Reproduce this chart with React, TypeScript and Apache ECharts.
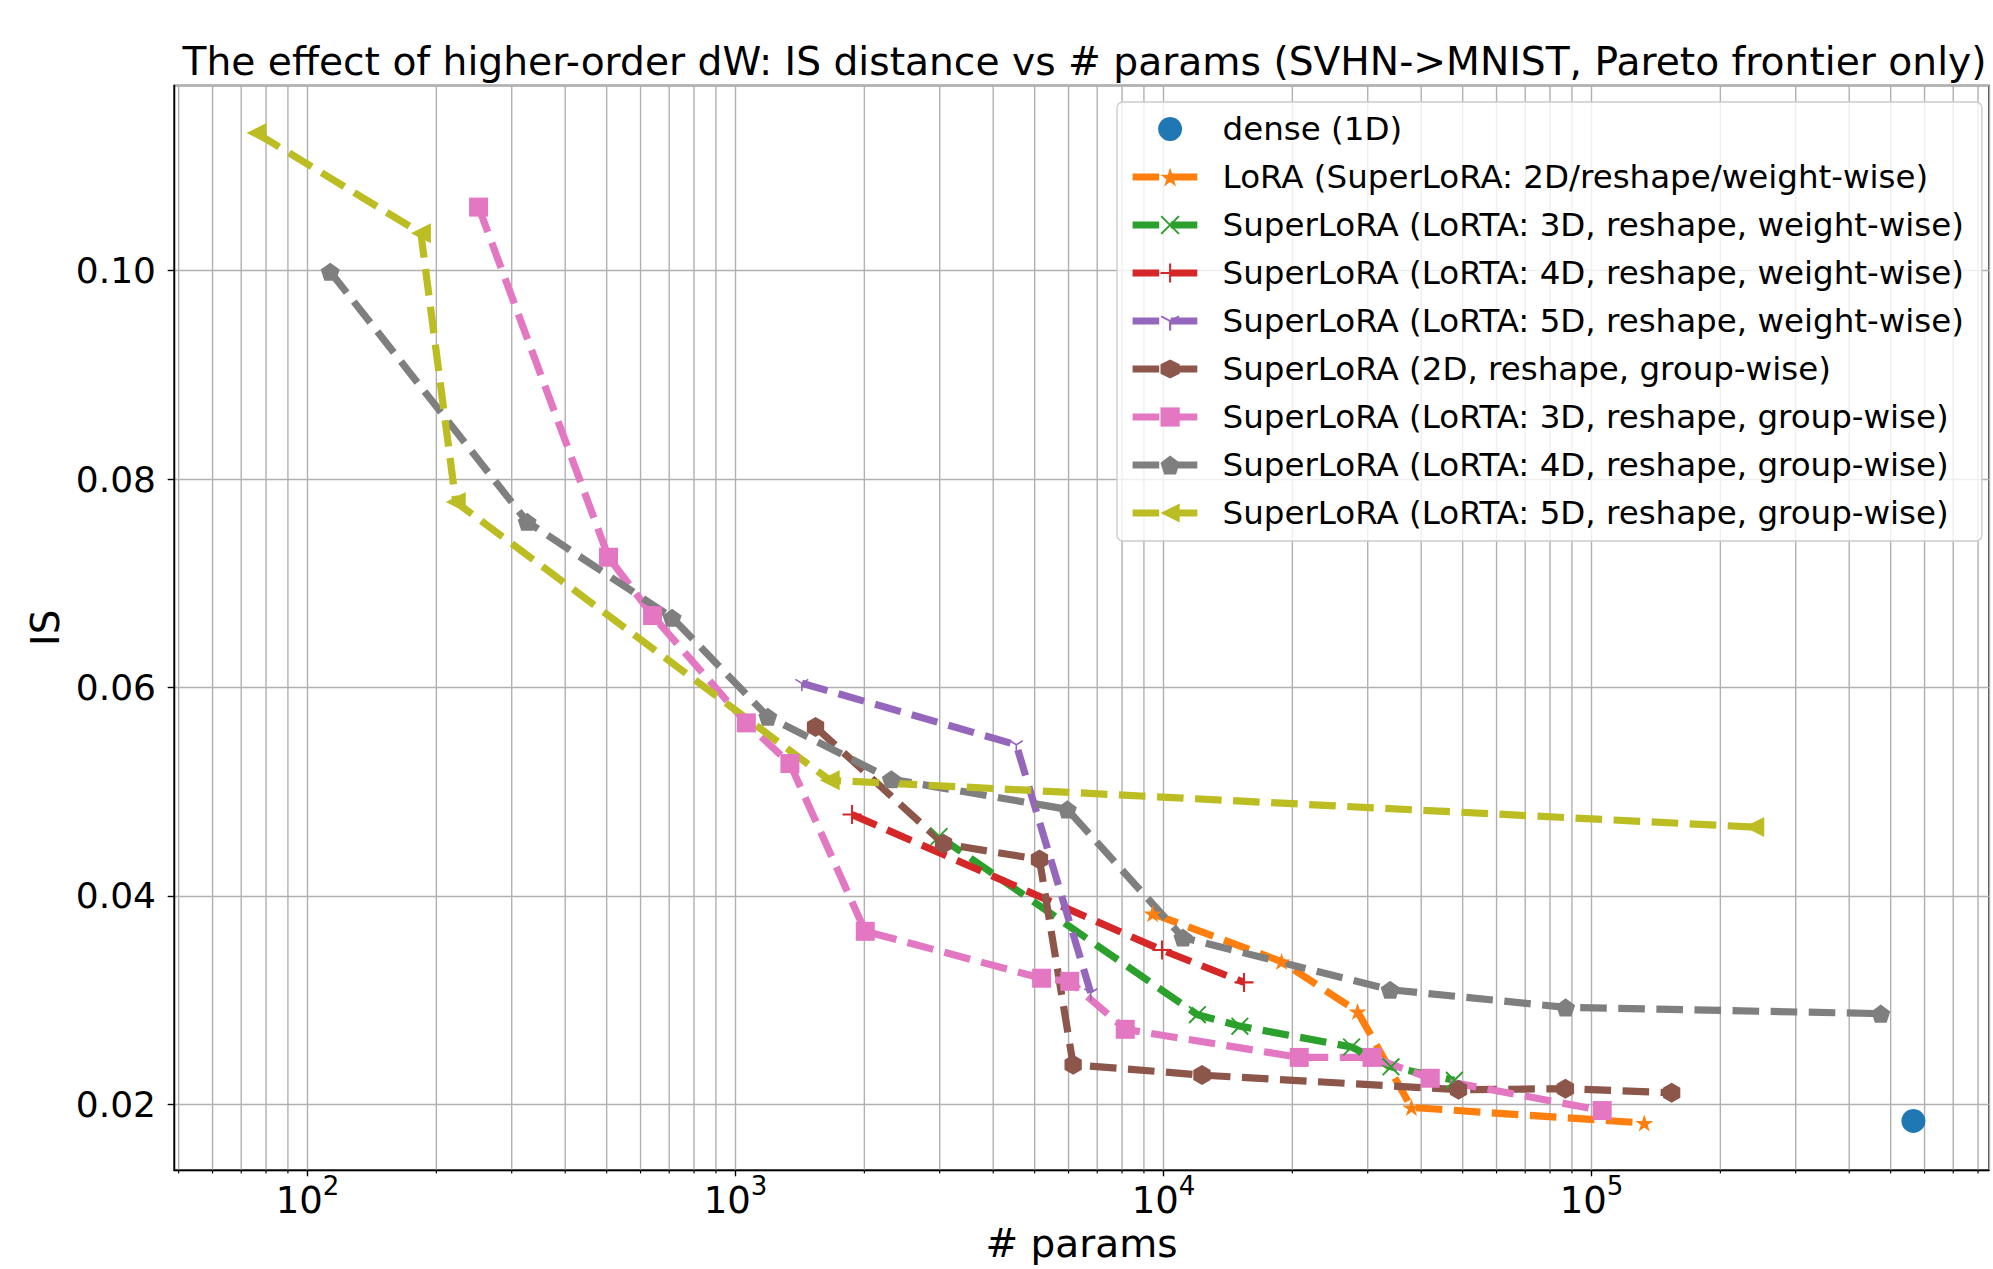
import React, { useEffect, useRef } from "react";
import * as echarts from "echarts";

const FONT = "DejaVu Sans";

// ---- data (x = # params, y = IS) ----
const denseX = [565000];
const denseY = [0.0184];

const loraX = [9430, 18870, 28400, 37950, 132800];
const loraY = [0.0383, 0.0337, 0.0289, 0.0197, 0.0182];

const lorta3wX = [2990, 12000, 15080, 27500, 34000, 47800];
const lorta3wY = [0.0457, 0.0286, 0.0275, 0.0255, 0.0236, 0.0223];

const lorta4wX = [1872, 9920, 15420];
const lorta4wY = [0.0478, 0.0348, 0.0317];

const lorta5wX = [1429, 4530, 6760];
const lorta5wY = [0.0604, 0.0545, 0.0307];

const super2gX = [1538, 3062, 5130, 6150, 12300, 48900, 86900, 153900];
const super2gY = [0.0562, 0.045, 0.0435, 0.0238, 0.0228, 0.0214, 0.0215, 0.0211];

const lorta3gX = [251, 505, 640, 1060, 1340, 2010, 5190, 6040, 8140, 20750, 30700, 42000, 105900];
const lorta3gY = [0.1061, 0.0725, 0.0669, 0.0566, 0.0527, 0.0366, 0.0321, 0.0318, 0.0272, 0.0245, 0.0245, 0.0225, 0.0194];

const lorta4gX = [113, 326, 711, 1190, 2312, 5960, 11100, 33850, 87000, 474000];
const lorta4gY = [0.0999, 0.0759, 0.0667, 0.0572, 0.0512, 0.0483, 0.036, 0.031, 0.0293, 0.0287];

const lorta5gX = [76, 184, 222, 1660, 240000];
const lorta5gY = [0.1132, 0.1036, 0.0778, 0.0511, 0.0466];

const seriesNames = [
  "dense (1D)",
  "LoRA (SuperLoRA: 2D/reshape/weight-wise)",
  "SuperLoRA (LoRTA: 3D, reshape, weight-wise)",
  "SuperLoRA (LoRTA: 4D, reshape, weight-wise)",
  "SuperLoRA (LoRTA: 5D, reshape, weight-wise)",
  "SuperLoRA (2D, reshape, group-wise)",
  "SuperLoRA (LoRTA: 3D, reshape, group-wise)",
  "SuperLoRA (LoRTA: 4D, reshape, group-wise)",
  "SuperLoRA (LoRTA: 5D, reshape, group-wise)",
];

const colors = ["#1f77b4", "#ff7f0e", "#2ca02c", "#d62728", "#9467bd", "#8c564b", "#e377c2", "#7f7f7f", "#bcbd22"];

// axis extents
const X_MIN = 48.76;
const X_MAX = 848600;
const Y_MIN = 0.013695;
const Y_MAX = 0.11777;

// minor (log) grid positions
const minorX = [
  50, 60, 70, 80, 90,
  200, 300, 400, 500, 600, 700, 800, 900,
  2000, 3000, 4000, 5000, 6000, 7000, 8000, 9000,
  20000, 30000, 40000, 50000, 60000, 70000, 80000, 90000,
  200000, 300000, 400000, 500000, 600000, 700000, 800000,
];

const TITLE = "The effect of higher-order dW: IS distance vs # params (SVHN->MNIST, Pareto frontier only)";

// ---- marker shapes ----
function fmt(p: number[]) {
  return p[0].toFixed(2) + "," + p[1].toFixed(2);
}
function polyPath(n: number, rOut: number, rIn: number | null): string {
  const pts: number[][] = [];
  const count = rIn === null ? n : n * 2;
  for (let i = 0; i < count; i++) {
    const a = -Math.PI / 2 + (i * 2 * Math.PI) / count;
    const r = rIn === null ? rOut : i % 2 === 0 ? rOut : rIn;
    pts.push([50 + r * Math.cos(a), 50 + r * Math.sin(a)]);
  }
  return "path://M" + pts.map(fmt).join(" L") + " Z";
}
function armRect(cx: number, cy: number, ex: number, ey: number, w: number): string {
  const dx = ex - cx, dy = ey - cy;
  const len = Math.hypot(dx, dy);
  const nx = (-dy / len) * (w / 2), ny = (dx / len) * (w / 2);
  let pts = [
    [cx + nx, cy + ny],
    [ex + nx, ey + ny],
    [ex - nx, ey - ny],
    [cx - nx, cy - ny],
  ];
  let area = 0;
  for (let i = 0; i < 4; i++) {
    const a = pts[i], b = pts[(i + 1) % 4];
    area += a[0] * b[1] - b[0] * a[1];
  }
  if (area < 0) pts = pts.reverse();
  return "M" + pts.map(fmt).join(" L") + " Z";
}

const STAR = polyPath(5, 50, 50 * 0.381966);
const PENTAGON = polyPath(5, 50, null);
const HEXAGON = polyPath(6, 50, null);
const TRI_LEFT = "path://M0,50 L100,0 L100,100 Z";
const XMARK = "path://M0,7.5 L7.5,0 L100,92.5 L92.5,100 Z M92.5,0 L100,7.5 L7.5,100 L0,92.5 Z";
const PLUS = "path://M44.7,0 L55.3,0 L55.3,100 L44.7,100 Z M0,44.7 L100,44.7 L100,55.3 L0,55.3 Z";
const TRI_DOWN =
  "path://" +
  armRect(50, 50, 50, 100, 10) +
  " " +
  armRect(50, 50, 90, 25, 10) +
  " " +
  armRect(50, 50, 10, 25, 10) +
  " M50,0 L50.05,0 L50,0.05 Z";

function zip(xs: number[], ys: number[]) {
  return xs.map((x, i) => [x, ys[i]]);
}

const LW = 7.2;
const DASH = [26.6, 11.5];

function lineSeries(idx: number, xs: number[], ys: number[], symbol: string, size: number) {
  return {
    type: "line",
    name: seriesNames[idx],
    data: zip(xs, ys),
    symbol,
    symbolSize: size,
    symbolKeepAspect: true,
    showSymbol: true,
    color: colors[idx],
    lineStyle: { color: colors[idx], width: LW, type: DASH, cap: "butt" },
    itemStyle: { color: colors[idx], borderWidth: 0, opacity: 1 },
    emphasis: { disabled: true },
    z: 3,
  };
}

export default function App() {
  const ref = useRef<HTMLDivElement>(null);

  useEffect(() => {
    if (!ref.current) return;
    const chart = echarts.init(ref.current, undefined, { renderer: "svg" });

    const gridLeft = 174;
    const gridTop = 85.5;
    const gridRightPx = 1989;
    const gridBottomPx = 1170;

    const option: any = {
      animation: false,
      backgroundColor: "#ffffff",
      textStyle: { fontFamily: FONT },
      grid: {
        left: gridLeft,
        top: gridTop,
        right: 1993 - gridRightPx,
        bottom: 1269 - gridBottomPx,
        show: true,
        borderColor: "#000000",
        borderWidth: 1.4,
        backgroundColor: "transparent",
        containLabel: false,
        outerBoundsMode: "none",
      },
      graphic: [
        {
          type: "text",
          x: (gridLeft + gridRightPx) / 2 + 3,
          y: 61,
          silent: true,
          style: {
            text: TITLE,
            fontSize: 39.2,
            fontFamily: FONT,
            fill: "#000000",
            align: "center",
            verticalAlign: "middle",
          },
        },
      ],
      legend: {
        data: seriesNames,
        orient: "vertical",
        left: 1117,
        top: 102,
        itemWidth: 75,
        itemHeight: 24,
        itemGap: 8,
        padding: [7, 18, 8, 12],
        backgroundColor: "rgba(255,255,255,0.8)",
        borderColor: "#cccccc",
        borderWidth: 1.4,
        borderRadius: 6,
        selectedMode: false,
        lineStyle: { width: LW },
        textStyle: {
          fontFamily: FONT,
          fontSize: 32.5,
          color: "#000000",
          lineHeight: 40,
          padding: [0, 0, 0, 10],
        },
      },
      xAxis: {
        type: "log",
        logBase: 10,
        min: X_MIN,
        max: X_MAX,
        name: "# params",
        nameLocation: "middle",
        nameGap: 50,
        nameTextStyle: { fontSize: 39, fontFamily: FONT, color: "#000000" },
        axisLine: { show: true, onZero: false, lineStyle: { color: "#000000", width: 1.4 } },
        axisTick: { show: true, length: 6.3, lineStyle: { color: "#000000", width: 1.4 } },
        axisLabel: {
          show: true,
          margin: 3,
          showMinLabel: false,
          showMaxLabel: false,
          formatter: (v: number) => {
            const e = Math.log10(v);
            const r = Math.round(e);
            if (Math.abs(e - r) > 1e-6) return "";
            return "{b|10}{s|" + r + "}";
          },
          rich: {
            b: { fontSize: 37, fontFamily: FONT, color: "#000000", lineHeight: 46, verticalAlign: "bottom" },
            s: { fontSize: 26, fontFamily: FONT, color: "#000000", lineHeight: 26, verticalAlign: "top" },
          },
        },
        splitLine: { show: true, lineStyle: { color: "#b0b0b0", width: 1.4 } },
        minorTick: { show: false },
        minorSplitLine: { show: false },
      },
      yAxis: {
        type: "value",
        min: Y_MIN,
        max: Y_MAX,
        splitNumber: 5,
        name: "IS",
        nameLocation: "middle",
        nameGap: 105,
        nameTextStyle: { fontSize: 39, fontFamily: FONT, color: "#000000" },
        axisLine: { show: true, onZero: false, lineStyle: { color: "#000000", width: 1.4 } },
        axisTick: { show: true, length: 6.3, lineStyle: { color: "#000000", width: 1.4 } },
        axisLabel: {
          show: true,
          margin: 18,
          fontSize: 36,
          fontFamily: FONT,
          color: "#000000",
          showMinLabel: false,
          showMaxLabel: false,
          formatter: (v: number) => {
            const q = v / 0.02;
            if (Math.abs(q - Math.round(q)) > 1e-6) return "";
            return v.toFixed(2);
          },
        },
        splitLine: { show: true, lineStyle: { color: "#b0b0b0", width: 1.4 } },
      },
      series: [
        {
          type: "custom",
          name: "minor-grid",
          silent: true,
          z: 0,
          clip: false,
          data: minorX.map((v) => [v, Y_MIN]),
          renderItem: (params: any, api: any) => {
            const x = api.coord([api.value(0), api.value(1)])[0];
            const cs = params.coordSys;
            return {
              type: "group",
              children: [
                {
                  type: "line",
                  shape: { x1: x, y1: cs.y, x2: x, y2: cs.y + cs.height },
                  style: { stroke: "#b0b0b0", lineWidth: 1.4 },
                },
                {
                  type: "line",
                  shape: { x1: x, y1: cs.y + cs.height, x2: x, y2: cs.y + cs.height + 3.6 },
                  style: { stroke: "#000000", lineWidth: 1.1 },
                },
              ],
            };
          },
        },
        {
          type: "scatter",
          name: seriesNames[0],
          data: zip(denseX, denseY),
          symbol: "circle",
          symbolSize: 24,
          color: colors[0],
          itemStyle: { color: colors[0], opacity: 1 },
          emphasis: { disabled: true },
          z: 3,
        },
        lineSeries(1, loraX, loraY, STAR, 18),
        lineSeries(2, lorta3wX, lorta3wY, XMARK, 18),
        lineSeries(3, lorta4wX, lorta4wY, PLUS, 19),
        lineSeries(4, lorta5wX, lorta5wY, TRI_DOWN, 16),
        lineSeries(5, super2gX, super2gY, HEXAGON, 20),
        lineSeries(6, lorta3gX, lorta3gY, "rect", 19),
        lineSeries(7, lorta4gX, lorta4gY, PENTAGON, 19),
        lineSeries(8, lorta5gX, lorta5gY, TRI_LEFT, 20),
      ],
    };

    chart.setOption(option);
    return () => {
      chart.dispose();
    };
  }, []);

  return (
    <div
      ref={ref}
      style={{ position: "fixed", left: 0, top: 0, width: 1993, height: 1269, background: "#fff" }}
    />
  );
}
